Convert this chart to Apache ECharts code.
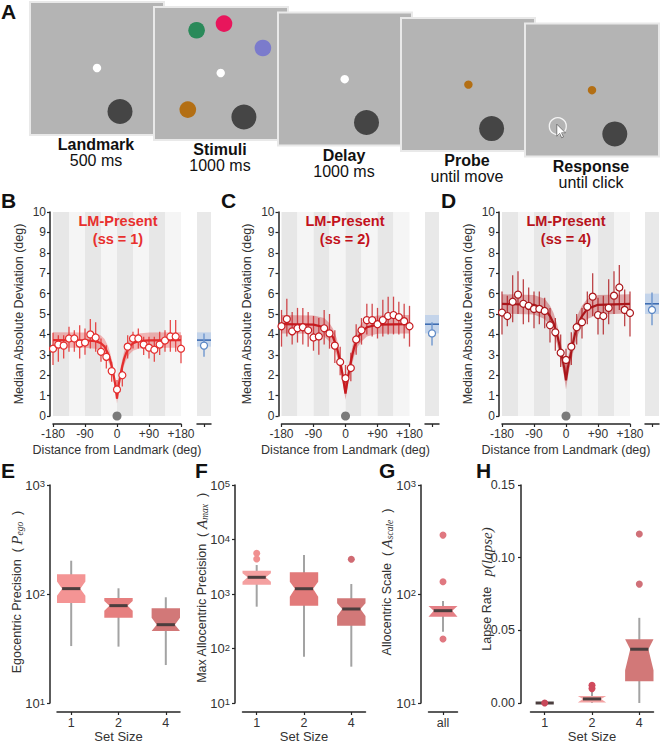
<!DOCTYPE html>
<html><head><meta charset="utf-8">
<script src="https://cdn.jsdelivr.net/npm/echarts@6/dist/echarts.min.js"></script>
<style>html,body{margin:0;padding:0;background:#fff}#c{width:661px;height:744px}</style>
</head><body><div id="c"></div>
<script>
// ================= DATA =================
// Panel A: task sequence
const frameName = ['Landmark', 'Stimuli', 'Delay', 'Probe', 'Response'];
const frameTime = ['500 ms', '1000 ms', '1000 ms', 'until move', 'until click'];
// stimulus items inside each frame (frame index, x, y in frame pixels, kind)
const itemFrame = [0, 0, 1, 1, 1, 1, 1, 1, 2, 2, 3, 3, 4, 4];
const itemX = [67, 90, 42.6, 70, 108.9, 66.7, 33.8, 89.9, 66.7, 88.5, 67.4, 90.6, 67, 89.8];
const itemY = [66, 109.5, 23.3, 16.6, 41, 66, 102.6, 110, 66.7, 110, 66.6, 110.6, 66.7, 110.4];
const itemKind = ['fix', 'lm', 'green', 'pink', 'purple', 'fix', 'orange', 'lm', 'fix', 'lm', 'probe', 'lm', 'probe', 'lm'];
const responseCursor = [32.8, 102.7];

// Panels B-D: distance from landmark (deg)
const distDeg = [-180,-165,-150,-135,-120,-105,-90,-75,-60,-45,-30,-15,0,15,30,45,60,75,90,105,120,135,150,165,180];
const distTicks = [-180, -90, 0, 90, 180];
const distTickLabels = ['-180', '-90', '0', '+90', '+180'];
const bandEdges = [-180, -135, -90, -45, 0, 45, 90, 135, 180];
const landmarkDeg = [0];

const madSS1 = [3.3,3.5,3.45,3.8,3.8,3.55,3.6,4.0,3.85,3.15,2.9,2.2,1.3,2.0,3.4,3.8,3.8,3.5,3.35,3.25,3.5,3.7,3.9,3.9,3.3];
const errLoSS1 = [2.5,2.66,2.82,3.15,3.15,2.82,3.0,3.31,3.15,2.66,2.33,1.68,0.86,1.44,2.82,3.31,3.31,2.99,2.82,2.66,2.99,3.15,3.15,3.15,2.58];
const errHiSS1 = [4.08,3.96,3.96,4.37,4.2,4.45,4.29,4.75,4.6,3.8,3.47,2.66,1.76,2.5,3.96,4.13,4.29,3.88,3.88,3.88,4.13,4.2,4.7,4.7,3.96];

const madSS2 = [4.4,4.75,4.15,4.3,4.35,4.2,3.85,3.9,4.3,4.05,3.45,2.65,1.85,2.35,3.75,4.2,4.7,4.7,4.5,4.7,4.9,4.95,4.85,4.65,4.4];
const errLoSS2 = [3.4,3.9,3.5,3.6,3.5,3.4,3.2,3.0,3.5,3.3,2.6,2.0,1.3,1.7,3.0,3.5,4.0,3.9,3.8,3.9,4.0,4.0,4.0,3.8,3.4];
const errHiSS2 = [5.2,5.75,5.1,5.3,5.3,5.1,4.9,4.8,5.2,5.0,4.2,3.4,2.5,3.1,4.5,4.8,5.5,5.5,5.3,5.7,5.85,5.85,5.6,5.5,5.4];

const madSS4 = [5.07,4.9,5.6,5.95,5.5,5.4,5.25,5.25,5.15,4.45,4.1,3.1,2.75,3.4,4.35,4.6,5.35,5.85,4.95,4.9,5.3,5.9,6.3,5.2,5.05];
const errLoSS4 = [4.0,4.4,4.6,5.0,4.5,4.6,4.3,4.5,4.3,3.6,3.2,2.4,1.9,2.5,3.5,3.8,4.5,4.9,4.0,4.0,4.5,5.0,5.2,4.4,3.9];
const errHiSS4 = [6.1,5.9,6.9,7.1,6.7,6.3,6.1,6.1,5.8,5.3,4.8,4.0,3.3,4.1,5.0,5.3,6.1,7.0,5.8,5.9,6.7,7.1,7.4,6.2,6.1];

// model fits
const fitDeg = [-180,-90,-60,-45,-35,-25,-20,-15,-10,-5,0,5,10,15,20,25,35,45,60,90,180];
const fitSS1   = [3.72,3.71,3.67,3.57,3.4,3.05,2.8,2.45,2.05,1.55,0.85,1.55,2.05,2.45,2.8,3.05,3.4,3.57,3.67,3.71,3.72];
const fitLoSS1 = [3.35,3.34,3.3,3.2,3.03,2.7,2.47,2.14,1.76,1.28,0.6,1.28,1.76,2.14,2.47,2.7,3.03,3.2,3.3,3.34,3.35];
const fitHiSS1 = [4.1,4.09,4.05,3.95,3.78,3.42,3.15,2.78,2.36,1.83,1.12,1.83,2.36,2.78,3.15,3.42,3.78,3.95,4.05,4.09,4.1];
const fitSS2   = [4.5,4.48,4.35,4.1,3.85,3.4,3.05,2.65,2.2,1.65,1.1,1.65,2.2,2.65,3.05,3.4,3.85,4.1,4.35,4.48,4.5];
const fitLoSS2 = [4.05,4.03,3.9,3.65,3.42,2.98,2.65,2.28,1.85,1.33,0.8,1.33,1.85,2.28,2.65,2.98,3.42,3.65,3.9,4.03,4.05];
const fitHiSS2 = [4.95,4.93,4.8,4.55,4.28,3.82,3.45,3.02,2.55,1.98,1.42,1.98,2.55,3.02,3.45,3.82,4.28,4.55,4.8,4.93,4.95];
const fitSS4   = [5.5,5.45,5.25,4.9,4.55,4.0,3.6,3.15,2.8,2.35,1.75,2.35,2.8,3.15,3.6,4.0,4.55,4.9,5.25,5.45,5.5];
const fitLoSS4 = [5.02,4.97,4.75,4.4,4.05,3.5,3.1,2.68,2.35,1.9,1.3,1.9,2.35,2.68,3.1,3.5,4.05,4.4,4.75,4.97,5.02];
const fitHiSS4 = [5.97,5.93,5.75,5.4,5.05,4.5,4.1,3.62,3.25,2.8,2.2,2.8,3.25,3.62,4.1,4.5,5.05,5.4,5.75,5.93,5.97];

// landmark-absent reference (blue), per set size 1,2,4
const absFit = [3.72, 4.5, 5.5];
const absBandLo = [3.4, 4.05, 5.0];
const absBandHi = [4.1, 4.95, 6.0];
const absPoint = [3.45, 4.05, 5.2];
const absErrLo = [2.9, 3.45, 4.45];
const absErrHi = [4.05, 4.6, 6.05];

// Panels E-H: box plots by set size
const setSizeLabels = ['1', '2', '4'];
const allLabels = ['all'];

const egoQ1 = [82.6, 60.6, 45.8], egoMed = [112, 78.2, 52.3], egoQ3 = [151.7, 91.9, 74];
const egoNotchLo = [96.6, 70.3, 45.8], egoNotchHi = [130, 86.3, 60.7];
const egoWhiskLo = [33.3, 32.9, 22.3], egoWhiskHi = [202, 112.8, 93.3];

const amaxQ1 = [1483, 610, 262], amaxMed = [2024, 1250, 531], amaxQ3 = [2680, 2500, 834];
const amaxNotchLo = [1683, 892, 395], amaxNotchHi = [2400, 1683, 676];
const amaxWhiskLo = [585, 70.8, 46.4], amaxWhiskHi = [3400, 5200, 1524];
const amaxOutBox = [1, 1, 3], amaxOutVal = [5580, 4390, 4340];

const ascQ1 = [62], ascMed = [70.3], ascQ3 = [77.6];
const ascNotchLo = [62], ascNotchHi = [77.6];
const ascWhiskLo = [45.1], ascWhiskHi = [86.3];
const ascOutBox = [1, 1, 1], ascOutVal = [347, 129.7, 38.6];

const lapseQ1 = [0, 0.0003, 0.015], lapseMed = [0, 0.0028, 0.037], lapseQ3 = [0, 0.0048, 0.0439];
const lapseNotchLo = [0, 0.0003, 0.0225], lapseNotchHi = [0, 0.0048, 0.0439];
const lapseWhiskLo = [0, 0, 0], lapseWhiskHi = [0, 0.0076, 0.0586];
const lapseOutBox = [1, 2, 2, 3, 3], lapseOutVal = [0, 0.0122, 0.0099, 0.1163, 0.0818];

// ================= STYLE / LAYOUT =================
const FONT = '"Liberation Sans", Arial, sans-serif';
const SERIF = '"Liberation Serif", "DejaVu Serif", serif';
const AX = '#262626', TXT = '#333';
const frameLeft = [30, 154, 278, 401, 525], frameTop = [2, 7, 12.5, 18, 23.5];
const frameW = 134, frameH = 133;
const kindStyle = {
  fix: {r: 4.2, fill: '#ffffff'}, lm: {r: 12.5, fill: '#454545'},
  green: {r: 8.3, fill: '#2a8a5a'}, pink: {r: 8.3, fill: '#e8165c'},
  purple: {r: 8.3, fill: '#7b7bcc'}, orange: {r: 8.3, fill: '#b36f14'},
  probe: {r: 4.2, fill: '#b36f14'}
};
const ssColor = ['#e42d2d', '#c61a1f', '#aa161b'];
const ssTitle = ['#e8302e', '#c3121c', '#b8141c'];
const ssCI = ['rgba(235,70,70,0.36)', 'rgba(205,45,50,0.36)', 'rgba(180,30,35,0.36)'];
const ssErr = ['rgba(228,45,45,0.85)', 'rgba(200,30,35,0.8)', 'rgba(175,25,30,0.8)'];
const mainLeft = [53, 281.5, 502], absLeft = [197, 425, 645];
const titleX = [118, 345, 566];

const SS = [
  {mad: madSS1, lo: errLoSS1, hi: errHiSS1, fit: fitSS1, flo: fitLoSS1, fhi: fitHiSS1},
  {mad: madSS2, lo: errLoSS2, hi: errHiSS2, fit: fitSS2, flo: fitLoSS2, fhi: fitHiSS2},
  {mad: madSS4, lo: errLoSS4, hi: errHiSS4, fit: fitSS4, flo: fitLoSS4, fhi: fitHiSS4}
];

const grid = [], xAxis = [], yAxis = [], series = [];

// ----- Panels B-D -----
for (let p = 0; p < 3; p++) {
  const g = grid.length;
  grid.push({left: mainLeft[p], top: 212, width: 128, height: 204});
  xAxis.push({gridIndex: g, type: 'value', min: -180, max: 180, interval: 90, offset: 8,
    axisLine: {show: true, onZero: false, lineStyle: {color: AX, width: 1.5}},
    axisTick: {show: true, length: 3, lineStyle: {color: AX, width: 1.2}},
    axisLabel: {margin: 4, fontSize: 12, color: TXT, fontFamily: FONT,
      formatter: v => distTickLabels[distTicks.indexOf(v)] || ''},
    splitLine: {show: false},
    name: 'Distance from Landmark (deg)', nameLocation: 'middle', nameGap: 19,
    nameTextStyle: {fontSize: 12.5, color: TXT, fontFamily: FONT}});
  yAxis.push({gridIndex: g, type: 'value', min: 0, max: 10, interval: 1, offset: 3,
    axisLine: {show: true, onZero: false, lineStyle: {color: AX, width: 1.5}},
    axisTick: {show: true, length: 3, lineStyle: {color: AX, width: 1.2}},
    axisLabel: {margin: 4, fontSize: 12, color: TXT, fontFamily: FONT},
    splitLine: {show: false},
    name: 'Median Absolute Deviation (deg)', nameLocation: 'middle', nameGap: 25, nameRotate: 90,
    nameTextStyle: {fontSize: 12.5, color: TXT, fontFamily: FONT}});
  const d = SS[p];
  // background bands
  series.push({type: 'custom', xAxisIndex: g, yAxisIndex: g, z: 1, silent: true, clip: false,
    data: bandEdges.slice(0, -1).map((x, i) => [x, bandEdges[i + 1], i % 2]),
    encode: {x: [0, 1]},
    renderItem: (params, api) => {
      const cs = params.coordSys;
      const x0 = api.coord([api.value(0), 5])[0], x1 = api.coord([api.value(1), 5])[0];
      return {type: 'rect', shape: {x: x0, y: cs.y, width: x1 - x0, height: cs.height},
        style: {fill: api.value(2) ? '#f5f5f5' : '#e7e7e7'}};
    }});
  // CI band of model fit
  series.push({type: 'custom', xAxisIndex: g, yAxisIndex: g, z: 2, silent: true, clip: false,
    data: [[0, 5]],
    renderItem: (params, api) => {
      const up = fitDeg.map((x, i) => api.coord([x, d.fhi[i]]));
      const dn = fitDeg.map((x, i) => api.coord([x, d.flo[i]])).reverse();
      return {type: 'polygon', shape: {points: up.concat(dn)}, style: {fill: ssCI[p]}};
    }});
  // error bars
  series.push({type: 'custom', xAxisIndex: g, yAxisIndex: g, z: 3, silent: true, clip: false,
    data: distDeg.map((x, i) => [x, d.lo[i], d.hi[i]]), encode: {x: 0, y: [1, 2]},
    renderItem: (params, api) => {
      const a = api.coord([api.value(0), api.value(1)]), b = api.coord([api.value(0), api.value(2)]);
      return {type: 'line', shape: {x1: a[0], y1: a[1], x2: b[0], y2: b[1]},
        style: {stroke: ssErr[p], lineWidth: 1.3}};
    }});
  // fit line
  series.push({type: 'line', xAxisIndex: g, yAxisIndex: g, z: 4, silent: true,
    data: fitDeg.map((x, i) => [x, d.fit[i]]), showSymbol: false, symbol: 'none',
    lineStyle: {color: ssColor[p], width: 2.2}});
  // data points
  series.push({type: 'scatter', xAxisIndex: g, yAxisIndex: g, z: 5, silent: true, clip: false,
    data: distDeg.map((x, i) => [x, d.mad[i]]), symbol: 'circle', symbolSize: 7,
    itemStyle: {color: '#ffffff', borderColor: ssColor[p], borderWidth: 1.2, opacity: 1}});
  // landmark marker
  series.push({type: 'scatter', xAxisIndex: g, yAxisIndex: g, z: 5, silent: true, clip: false,
    data: landmarkDeg.map(x => [x, 0]), symbol: 'circle', symbolSize: 9,
    itemStyle: {color: '#7a7a7a', opacity: 1}});

  // landmark-absent side panel
  const ga = grid.length;
  grid.push({left: absLeft[p], top: 212, width: 14, height: 204, show: true,
    backgroundColor: '#e9e9e9', borderWidth: 0, borderColor: 'transparent'});
  xAxis.push({gridIndex: ga, type: 'category', data: [''], offset: 8,
    axisLine: {show: true, onZero: false, lineStyle: {color: AX, width: 1.5}},
    axisTick: {show: true, alignWithLabel: true, length: 3, lineStyle: {color: AX, width: 1.2}},
    axisLabel: {show: false}, splitLine: {show: false}});
  yAxis.push({gridIndex: ga, type: 'value', min: 0, max: 10, show: false, splitLine: {show: false}});
  series.push({type: 'custom', xAxisIndex: ga, yAxisIndex: ga, z: 2, silent: true, clip: false,
    data: [[0, absBandLo[p], absBandHi[p], absFit[p]]], encode: {x: 0, y: [1, 2, 3]},
    renderItem: (params, api) => {
      const cs = params.coordSys;
      const yl = api.coord([0, api.value(1)])[1], yh = api.coord([0, api.value(2)])[1];
      const yf = api.coord([0, api.value(3)])[1];
      return {type: 'group', children: [
        {type: 'rect', shape: {x: cs.x, y: yh, width: cs.width, height: yl - yh}, style: {fill: '#c4d4ea'}},
        {type: 'line', shape: {x1: cs.x, y1: yf, x2: cs.x + cs.width, y2: yf}, style: {stroke: '#3f6db2', lineWidth: 1.6}}
      ]};
    }});
  series.push({type: 'custom', xAxisIndex: ga, yAxisIndex: ga, z: 3, silent: true, clip: false,
    data: [[0, absErrLo[p], absErrHi[p]]], encode: {x: 0, y: [1, 2]},
    renderItem: (params, api) => {
      const a = api.coord([0, api.value(1)]), b = api.coord([0, api.value(2)]);
      return {type: 'line', shape: {x1: a[0], y1: a[1], x2: b[0], y2: b[1]},
        style: {stroke: '#6f97cf', lineWidth: 1.4}};
    }});
  series.push({type: 'scatter', xAxisIndex: ga, yAxisIndex: ga, z: 5, silent: true, clip: false,
    data: [[0, absPoint[p]]], symbol: 'circle', symbolSize: 7,
    itemStyle: {color: '#ffffff', borderColor: '#5a86c4', borderWidth: 1.2, opacity: 1}});
}

// ----- Panels E-H -----
const logRich = {
  b: {fontSize: 13, color: TXT, fontFamily: FONT},
  s: {fontSize: 9.5, color: TXT, fontFamily: FONT, verticalAlign: 'top', lineHeight: 10}
};
function logLabel(v) { return '{b|10}{s|' + Math.round(Math.log10(v)) + '}'; }

function addBoxPanel(cfg) {
  const g = grid.length;
  grid.push({left: cfg.left, top: 485, width: cfg.width, height: 218});
  xAxis.push({gridIndex: g, type: 'value', min: 0.7, max: cfg.n + 0.3, offset: 9,
    axisLine: {show: true, onZero: false, lineStyle: {color: AX, width: 1.5}},
    axisTick: {show: true, length: 3, customValues: cfg.labels.map((_, i) => i + 1), lineStyle: {color: AX, width: 1.2}},
    axisLabel: {customValues: cfg.labels.map((_, i) => i + 1), margin: 4, fontSize: 12.5, color: TXT, fontFamily: FONT,
      formatter: v => cfg.labels[Math.round(v) - 1] || ''},
    splitLine: {show: false},
    name: cfg.xname, nameLocation: 'middle', nameGap: 18,
    nameTextStyle: {fontSize: 13, color: TXT, fontFamily: FONT}});
  const ya = {gridIndex: g, offset: cfg.yOffset,
    axisLine: {show: true, onZero: false, lineStyle: {color: AX, width: 1.5}},
    axisTick: {show: true, length: 3, lineStyle: {color: AX, width: 1.2}},
    splitLine: {show: false}, minorTick: {show: false}};
  if (cfg.log) {
    Object.assign(ya, {type: 'log', logBase: 10, min: cfg.ymin, max: cfg.ymax,
      axisLabel: {margin: 5, formatter: logLabel, rich: logRich}});
  } else {
    Object.assign(ya, {type: 'value', min: cfg.ymin, max: cfg.ymax, interval: cfg.interval,
      axisLabel: {margin: 6, fontSize: 12.5, color: TXT, fontFamily: FONT, formatter: v => v.toFixed(2)}});
  }
  yAxis.push(ya);
  const b = cfg.box;
  series.push({type: 'custom', xAxisIndex: g, yAxisIndex: g, z: 5, silent: true, clip: false,
    data: b.q1.map((_, i) => [i + 1, b.q1[i], b.med[i], b.q3[i], b.nlo[i], b.nhi[i], b.wlo[i], b.whi[i]]),
    encode: {x: 0, y: [1, 2, 3, 4, 5, 6, 7]},
    renderItem: (params, api) => {
      const i = params.dataIndex, xc = api.value(0), ym = api.value(2);
      const L = api.coord([xc - 0.3, ym])[0], R = api.coord([xc + 0.3, ym])[0], X = api.coord([xc, ym])[0];
      const Y = k => api.coord([xc, api.value(k)])[1];
      const yq1 = Y(1), ymed = Y(2), yq3 = Y(3), ynl = Y(4), ynh = Y(5), ywl = Y(6), ywh = Y(7);
      const ind = (R - L) * 0.18;
      return {type: 'group', children: [
        {type: 'line', shape: {x1: X, y1: ywl, x2: X, y2: ywh}, style: {stroke: '#a3a3a3', lineWidth: 2}},
        {type: 'polygon', shape: {points: [[L, yq3], [L, ynh], [L + ind, ymed], [L, ynl], [L, yq1], [R, yq1], [R, ynl], [R - ind, ymed], [R, ynh], [R, yq3]]},
          style: {fill: cfg.colors[i]}},
        {type: 'line', shape: {x1: L + ind, y1: ymed, x2: R - ind, y2: ymed}, style: {stroke: '#4b3e3e', lineWidth: 3}}
      ]};
    }});
  if (cfg.out) {
    series.push({type: 'scatter', xAxisIndex: g, yAxisIndex: g, z: 6, silent: true, clip: false,
      symbol: 'circle', symbolSize: 7,
      data: cfg.out.box.map((bx, i) => ({value: [bx, cfg.out.val[i]], itemStyle: {color: cfg.outColors[bx - 1], opacity: 1}}))});
  }
}

addBoxPanel({left: 57, width: 123, n: 3, labels: setSizeLabels, xname: 'Set Size', yOffset: 7, log: true, ymin: 10, ymax: 1000,
  box: {q1: egoQ1, med: egoMed, q3: egoQ3, nlo: egoNotchLo, nhi: egoNotchHi, wlo: egoWhiskLo, whi: egoWhiskHi},
  colors: ['#f49494', '#e67f7f', '#d27878']});
addBoxPanel({left: 242.5, width: 123, n: 3, labels: setSizeLabels, xname: 'Set Size', yOffset: 7.5, log: true, ymin: 10, ymax: 100000,
  box: {q1: amaxQ1, med: amaxMed, q3: amaxQ3, nlo: amaxNotchLo, nhi: amaxNotchHi, wlo: amaxWhiskLo, whi: amaxWhiskHi},
  colors: ['#f4a0a0', '#e27a7a', '#d27878'], out: {box: amaxOutBox, val: amaxOutVal}, outColors: ['#f09090', '#e27a7a', '#d06a72']});
addBoxPanel({left: 428.5, width: 29, n: 1, labels: allLabels, xname: '', yOffset: 7.5, log: true, ymin: 10, ymax: 1000,
  box: {q1: ascQ1, med: ascMed, q3: ascQ3, nlo: ascNotchLo, nhi: ascNotchHi, wlo: ascWhiskLo, whi: ascWhiskHi},
  colors: ['#e57f85'], out: {box: ascOutBox, val: ascOutVal}, outColors: ['#e07880']});
addBoxPanel({left: 530.5, width: 123, n: 3, labels: setSizeLabels, xname: 'Set Size', yOffset: 9.5, log: false, ymin: 0, ymax: 0.15, interval: 0.05,
  box: {q1: lapseQ1, med: lapseMed, q3: lapseQ3, nlo: lapseNotchLo, nhi: lapseNotchHi, wlo: lapseWhiskLo, whi: lapseWhiskHi},
  colors: ['#d27878', '#f4a3a3', '#d27878'], out: {box: lapseOutBox, val: lapseOutVal}, outColors: ['#c8485a', '#d04a5c', '#d07078']});

// ----- Panel A (task schematic) -----
const gA = grid.length;
grid.push({left: 0, top: 0, width: 661, height: 200});
xAxis.push({gridIndex: gA, type: 'value', min: 0, max: 661, show: false, splitLine: {show: false}});
yAxis.push({gridIndex: gA, type: 'value', min: 0, max: 200, inverse: true, show: false, splitLine: {show: false}});
series.push({type: 'custom', xAxisIndex: gA, yAxisIndex: gA, z: 2, silent: true, clip: false,
  data: frameName.map((_, i) => [i, 0]),
  renderItem: (params, api) => {
    const i = params.dataIndex;
    const c = (x, y) => api.coord([frameLeft[i] + x, frameTop[i] + y]);
    const p0 = c(0, 0), p1 = c(frameW, frameH);
    const ch = [{type: 'rect', shape: {x: p0[0], y: p0[1], width: p1[0] - p0[0], height: p1[1] - p0[1]},
      style: {fill: '#b4b4b4', stroke: '#e9e9e9', lineWidth: 2}}];
    itemFrame.forEach((f, k) => {
      if (f !== i) return;
      const q = c(itemX[k], itemY[k]), s = kindStyle[itemKind[k]];
      ch.push({type: 'circle', shape: {cx: q[0], cy: q[1], r: s.r}, style: {fill: s.fill}});
    });
    if (i === frameName.length - 1) {
      const q = c(responseCursor[0], responseCursor[1]);
      ch.push({type: 'circle', shape: {cx: q[0], cy: q[1], r: 8.5}, style: {fill: 'none', stroke: '#f4f4f4', lineWidth: 1.3}});
      const arrow = [[0, 0], [0, 12], [2.9, 9.3], [4.9, 13.6], [6.7, 12.8], [4.8, 8.6], [8.6, 8.6]];
      ch.push({type: 'polygon', shape: {points: arrow.map(a => [q[0] - 1 + a[0], q[1] - 2 + a[1]])},
        style: {fill: '#ffffff', stroke: '#555', lineWidth: 0.7}});
    }
    const lc = c(frameW / 2 - 1, frameH + 9.5), lt = c(frameW / 2 - 1, frameH + 25.5);
    ch.push({type: 'text', x: lc[0], y: lc[1], style: {text: frameName[i], fill: '#111', font: 'bold 16px ' + FONT, align: 'center', verticalAlign: 'middle'}});
    ch.push({type: 'text', x: lt[0], y: lt[1], style: {text: frameTime[i], fill: '#111', font: '16px ' + FONT, align: 'center', verticalAlign: 'middle'}});
    return {type: 'group', children: ch};
  }});

// ----- texts -----
const graphic = [];
const letters = [['A', 1, 11.5], ['B', 1, 200], ['C', 221, 200], ['D', 441, 200], ['E', 1, 470], ['F', 195, 470], ['G', 379, 470], ['H', 476, 470]];
letters.forEach(l => graphic.push({type: 'text', x: l[1], y: l[2], z: 100,
  style: {text: l[0], font: 'bold 21px ' + FONT, fill: '#111', align: 'left', verticalAlign: 'middle'}}));
for (let p = 0; p < 3; p++) {
  graphic.push({type: 'text', x: titleX[p], y: 221, z: 100,
    style: {text: 'LM-Present', font: 'bold 14.5px ' + FONT, fill: ssTitle[p], align: 'center', verticalAlign: 'middle'}});
  graphic.push({type: 'text', x: titleX[p], y: 238.5, z: 100,
    style: {text: '(ss = ' + setSizeLabels[p] + ')', font: 'bold 14.5px ' + FONT, fill: ssTitle[p], align: 'center', verticalAlign: 'middle'}});
}
const yRich = {
  a: {fontSize: 12.5, fontFamily: FONT, fill: TXT},
  i: {fontSize: 15, fontFamily: SERIF, fontStyle: 'italic', fill: TXT},
  s: {fontSize: 9.5, fontFamily: SERIF, fontStyle: 'italic', fill: TXT, verticalAlign: 'bottom'}
};
const yTitles = [
  ['{a|Egocentric Precision  ( }{i|P}{s|ego}{a|  )}', 17, 592],
  ['{a|Max Allocentric Precision  ( }{i|A}{s|max}{a|  )}', 202, 588],
  ['{a|Allocentric Scale  ( }{i|A}{s|scale}{a|  )}', 387, 582],
  ['{a|Lapse Rate   }{i|p(lapse)}', 487, 589]
];
yTitles.forEach(t => graphic.push({type: 'text', x: t[1], y: t[2], rotation: Math.PI / 2, z: 100,
  style: {text: t[0], rich: yRich, align: 'center', verticalAlign: 'middle'}}));

const chart = echarts.init(document.getElementById('c'), null, {renderer: 'svg', width: 661, height: 744});
chart.setOption({
  animation: false,
  backgroundColor: '#ffffff',
  textStyle: {fontFamily: FONT},
  grid: grid, xAxis: xAxis, yAxis: yAxis, series: series, graphic: graphic
});
</script></body></html>
